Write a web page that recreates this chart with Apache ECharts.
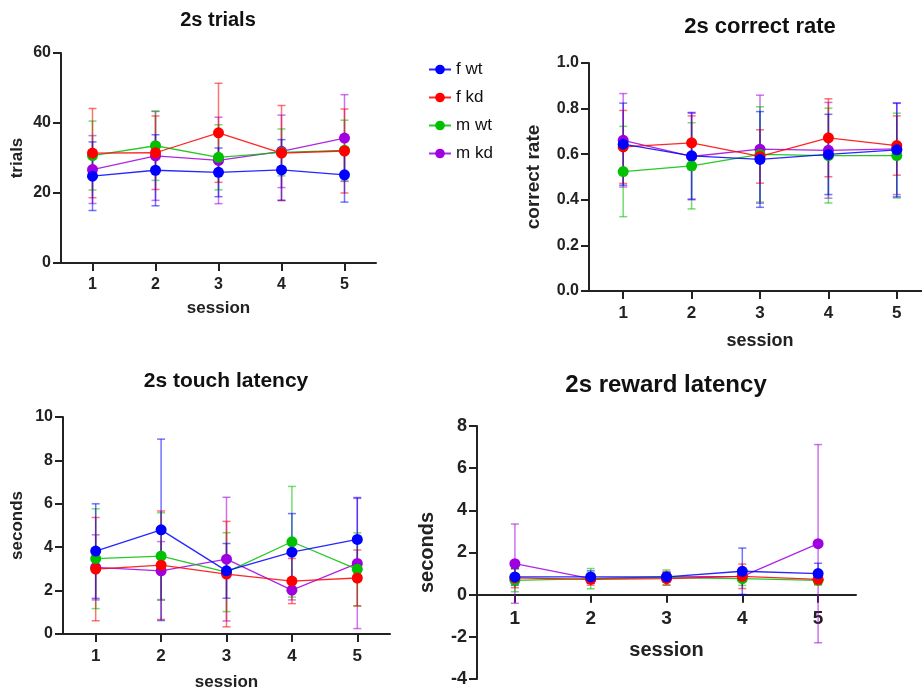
<!DOCTYPE html>
<html><head><meta charset="utf-8">
<script src="https://cdn.jsdelivr.net/npm/echarts@6/dist/echarts.min.js"></script>
<style>html,body{margin:0;padding:0;background:#fff}#c{width:922px;height:691px}</style>
</head><body><div id="c"></div>
<script>
const sessions = ['1','2','3','4','5'];
const groups = ['f wt','f kd','m wt','m kd'];
const colors = ['#0000ff','#ff0000','#00c000','#a000e0'];

// mean per group (order: f wt, f kd, m wt, m kd) and SD
const trialsMean = [[24.8,26.5,25.9,26.6,25.2],[31.4,31.5,37.2,31.4,32.0],[30.7,33.5,30.2,31.6,32.2],[26.7,30.6,29.3,31.9,35.7]];
const trialsSD   = [[9.8,10.15,6.95,8.65,7.8],[12.75,10.5,14.15,13.6,12.0],[9.85,9.9,9.3,6.7,8.6],[9.7,12.7,12.35,10.35,12.4]];

const rateMean = [[0.644,0.593,0.577,0.599,0.619],[0.632,0.65,0.59,0.672,0.638],[0.524,0.549,0.599,0.594,0.594],[0.661,0.59,0.622,0.617,0.623]];
const rateSD   = [[0.18,0.19,0.21,0.176,0.206],[0.16,0.118,0.117,0.171,0.13],[0.198,0.189,0.209,0.208,0.186],[0.205,0.19,0.237,0.21,0.2]];

const touchMean = [[3.82,4.80,2.91,3.77,4.36],[2.99,3.17,2.76,2.44,2.58],[3.47,3.59,2.85,4.25,2.98],[3.07,2.91,3.45,2.02,3.25]];
const touchSD   = [[2.18,4.18,1.26,1.78,1.93],[2.38,2.5,2.43,1.04,1.29],[2.3,2.0,1.82,2.55,1.68],[1.5,1.35,2.85,0.45,3.0]];

const rewardMean = [[0.84,0.84,0.84,1.11,1.0],[0.8,0.73,0.76,0.87,0.73],[0.68,0.76,0.81,0.76,0.68],[1.47,0.76,0.84,0.87,2.42]];
const rewardSD   = [[0.4,0.29,0.2,1.1,0.49],[0.47,0.28,0.3,0.58,0.26],[0.54,0.48,0.36,0.32,0.2],[1.88,0.2,0.25,0.2,4.7]];

const FONT = '"Liberation Sans", Arial, sans-serif';
const AX = '#222';

const panels = [
  {title:'2s trials', tx:218, ty:20, tfs:20, grid:{left:61, top:53, width:315, height:210},
   y:{min:0,max:60,interval:20,name:'trials',gap:35,fs:16,nfs:17}, x:{gap:37,fs:16,nfs:17,margin:14},
   mean:trialsMean, sd:trialsSD},
  {title:'2s correct rate', tx:760, ty:27, tfs:22, grid:{left:589, top:63, width:342, height:228},
   y:{min:0,max:1,interval:0.2,name:'correct rate',gap:46,fs:16,nfs:19,fmt:v=>v.toFixed(1)}, x:{gap:41,fs:17,nfs:18,margin:14},
   mean:rateMean, sd:rateSD},
  {title:'2s touch latency', tx:226, ty:381, tfs:21, grid:{left:63, top:417, width:327, height:217},
   y:{min:0,max:10,interval:2,name:'seconds',gap:37,fs:16,nfs:17}, x:{gap:40,fs:17,nfs:17,margin:14},
   mean:touchMean, sd:touchSD},
  {title:'2s reward latency', tx:666, ty:385, tfs:24, grid:{left:477, top:426, width:379, height:253},
   y:{min:-4,max:8,interval:2,name:'seconds',gap:40,fs:18,nfs:20}, x:{gap:46,fs:19,nfs:20,margin:15},
   mean:rewardMean, sd:rewardSD}
];

const drawOrder = [3,2,1,0];
const grids=[], xAxes=[], yAxes=[], series=[], graphics=[];
panels.forEach((p,pi)=>{
  grids.push(Object.assign({containLabel:false, outerBoundsMode:'none'}, p.grid));
  // x axis sits at value 0 of the y axis
  const zeroOffset = -p.grid.height * (0 - p.y.min) / (p.y.max - p.y.min);
  xAxes.push({type:'category', gridIndex:pi, data:sessions, boundaryGap:true, position:'bottom', offset:zeroOffset,
    name:'session', nameLocation:'middle', nameGap:p.x.gap,
    nameTextStyle:{fontFamily:FONT, fontWeight:'bold', fontSize:p.x.nfs, color:AX},
    axisLine:{show:true, onZero:false, lineStyle:{color:AX, width:2}},
    axisTick:{show:true, alignWithLabel:true, length:8, lineStyle:{color:AX, width:2}},
    axisLabel:{fontFamily:FONT, fontWeight:'bold', fontSize:p.x.fs, color:AX, margin:p.x.margin},
    splitLine:{show:false}});
  yAxes.push({type:'value', gridIndex:pi, min:p.y.min, max:p.y.max, interval:p.y.interval,
    name:p.y.name, nameLocation:'middle', nameGap:p.y.gap,
    nameTextStyle:{fontFamily:FONT, fontWeight:'bold', fontSize:p.y.nfs, color:AX},
    axisLine:{show:true, onZero:false, lineStyle:{color:AX, width:2}},
    axisTick:{show:true, length:8, lineStyle:{color:AX, width:2}},
    axisLabel:{fontFamily:FONT, fontWeight:'bold', fontSize:p.y.fs, color:AX, margin:10,
      formatter: p.y.fmt || (v=>String(v))},
    splitLine:{show:false}});
  graphics.push({type:'text', x:p.tx, y:p.ty, style:{text:p.title, textAlign:'center', textVerticalAlign:'middle',
    font:'bold '+p.tfs+'px '+FONT, fill:'#111'}});
  drawOrder.forEach(gi=>{
    const col = colors[gi];
    series.push({type:'custom', name:groups[gi]+' sd', xAxisIndex:pi, yAxisIndex:pi,
      data:p.mean[gi].map((m,i)=>[i,m,p.sd[gi][i]]),
      encode:{x:0,y:1}, silent:true, z:2,
      renderItem:(params, api)=>{
        const x=api.value(0), m=api.value(1), s=api.value(2);
        const t=api.coord([x,m+s]), b=api.coord([x,m-s]);
        const hw=4;
        const st={stroke:col, lineWidth:1.5, opacity:0.55};
        return {type:'group', children:[
          {type:'line', shape:{x1:t[0],y1:t[1],x2:b[0],y2:b[1]}, style:st},
          {type:'line', shape:{x1:t[0]-hw,y1:t[1],x2:t[0]+hw,y2:t[1]}, style:st},
          {type:'line', shape:{x1:b[0]-hw,y1:b[1],x2:b[0]+hw,y2:b[1]}, style:st}
        ]};
      }});
    series.push({type:'line', name:groups[gi], xAxisIndex:pi, yAxisIndex:pi, data:p.mean[gi],
      symbol:'circle', symbolSize:11, z:3, color:col,
      itemStyle:{color:col}, lineStyle:{color:col, width:1.3, opacity:0.85}, animation:false});
  });
});

const chart = echarts.init(document.getElementById('c'), null, {renderer:'canvas'});
chart.setOption({
  animation:false,
  backgroundColor:'#fff',
  grid:grids, xAxis:xAxes, yAxis:yAxes, series:series,
  legend:{data:groups, orient:'vertical', left:423, top:56, itemWidth:22, itemHeight:12, itemGap:11,
    textStyle:{fontFamily:FONT, fontSize:17, color:'#111'}, selectedMode:false},
  tooltip:{show:false},
  graphic:graphics
});
</script></body></html>
